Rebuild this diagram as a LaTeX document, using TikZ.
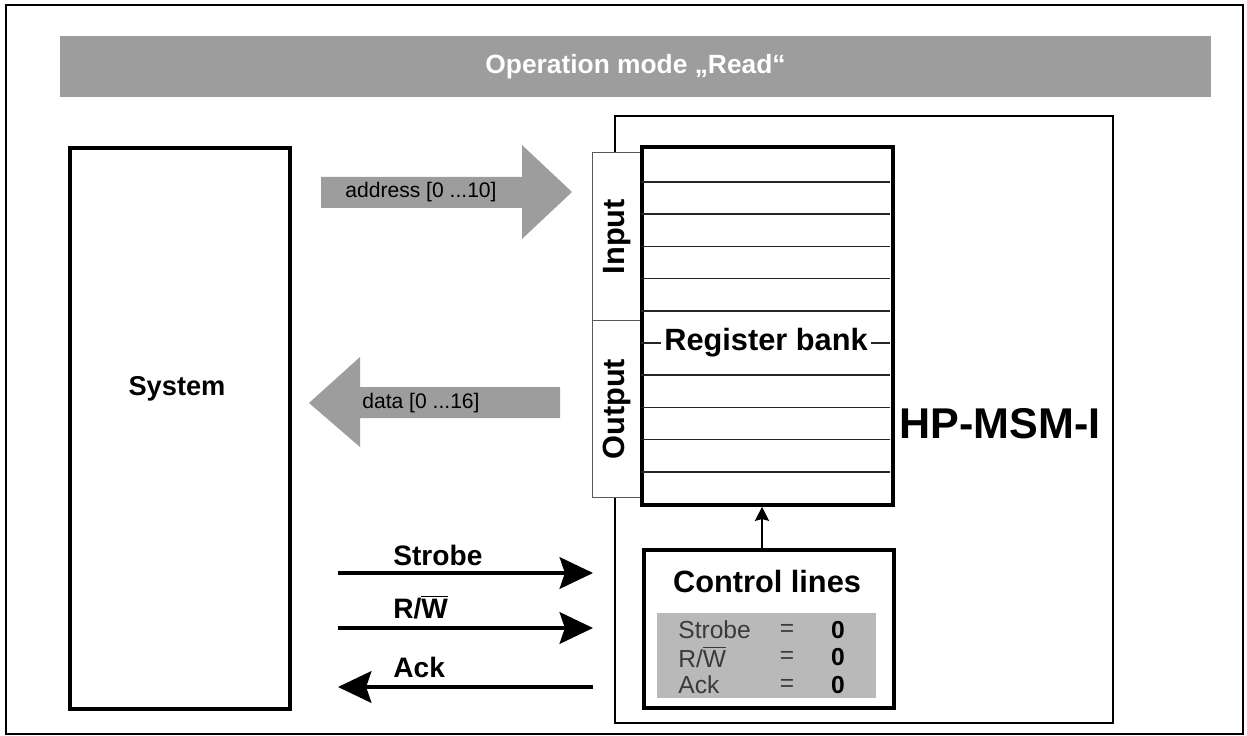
\documentclass[tikz,border=0pt]{standalone}
\usepackage{fontspec}
\setmainfont{Liberation Sans}
\usetikzlibrary{arrows.meta}
\definecolor{bargray}{HTML}{9D9D9D}
\definecolor{boxgray}{HTML}{B9B9B9}
\definecolor{txtgray}{HTML}{3A3A3A}

\begin{document}
\begin{tikzpicture}[x=0.02cm, y=-0.02cm,
    box/.style={draw=black, line width=2.2pt, inner sep=0pt, anchor=north west},
    hpframe/.style={draw=black, line width=1.1pt, inner sep=0pt, anchor=north west},
    tab/.style={draw=black!65, line width=0.8pt, fill=white, inner sep=0pt, anchor=north west},
    row/.style={draw=black!85, line width=1pt},
    sig/.style={line width=1.8pt, -{Stealth[length=19pt, width=18pt, inset=3pt]}},
    slabel/.style={font=\fontsize{16}{18}\selectfont\bfseries, anchor=west, inner sep=0pt},
    blabel/.style={font=\fontsize{12}{14}\selectfont, inner sep=0pt},
    clabel/.style={font=\fontsize{14}{14}\selectfont, text=txtgray, inner sep=0pt},
]
\useasboundingbox (0,0) rectangle (1247,736);
\draw[line width=1.1pt] (6,5) rectangle (1243,734);

% Title bar
\node[fill=bargray, minimum width=23.02cm, minimum height=1.22cm, inner sep=0pt,
  text=white, font=\fontsize{15}{18}\selectfont\bfseries] (bar) at (635.5,66.5) {Operation mode „Read“};

% System
\node[box, minimum width=4.4cm, minimum height=11.22cm] (sys) at (68,146) {};
\node[font=\fontsize{15.5}{18}\selectfont\bfseries] (systxt) at (177,389) {System};

% HP-MSM-I with register bank
\node[hpframe, minimum width=9.96cm, minimum height=12.14cm] (hp) at (614,115) {};
\node[font=\fontsize{24.5}{28}\selectfont\bfseries] (hptxt) at (1000,424) {HP-MSM-I};

\node[tab, minimum width=0.96cm, minimum height=3.36cm] (intab) at (592,152) {};
\node[tab, minimum width=0.96cm, minimum height=3.54cm] (outtab) at (592,320) {};
\node[rotate=90, font=\fontsize{17.5}{20}\selectfont\bfseries] (intxt) at (intab.center) {Input};
\node[rotate=90, font=\fontsize{17.5}{20}\selectfont\bfseries] (outtxt) at (outtab.center) {Output};

\node[box, fill=white, minimum width=5.02cm, minimum height=7.16cm] (rb) at (640,145) {};
\foreach \i in {0,...,9}
  \draw[row] (641,{182+32.2*\i}) -- (890,{182+32.2*\i});
\node[fill=white, inner sep=2pt, font=\fontsize{17.5}{20}\selectfont\bfseries] (rbtxt) at (766,343) {Register bank};

% Data paths
\fill[bargray] (321,177) -- (522,177) -- (522,145) -- (572,192) -- (522,239) -- (522,208) -- (321,208) -- cycle;
\node[blabel] (addr) at (421,192) {address [0 ...10]};
\fill[bargray] (560,387) -- (360,387) -- (360,357) -- (309,403) -- (360,447) -- (360,418) -- (560,418) -- cycle;
\node[blabel, anchor=west] (data) at (362,403) {data [0 ...16]};

% Control lines
\node[box, minimum width=5cm, minimum height=3.16cm] (ctl) at (642,548) {};
\node[font=\fontsize{17.5}{20}\selectfont\bfseries] (ctltxt) at (767,582) {Control lines};
\node[fill=boxgray, minimum width=4.38cm, minimum height=1.7cm, inner sep=0pt, anchor=north west] (vals) at (657,613) {};
\node[clabel, anchor=west] (v1) at (678,630) {Strobe};
\node[clabel, anchor=west] (v2) at (678,657) {R/$\overline{\mbox{W}}$};
\node[clabel, anchor=west] (v3) at (678,685) {Ack};
\node[clabel] (e1) at (787,630) {=};
\node[clabel] (e2) at (787,657) {=};
\node[clabel] (e3) at (787,685) {=};
\node[clabel, text=black, font=\fontsize{14}{14}\selectfont\bfseries] (z1) at (838,630) {0};
\node[clabel, text=black, font=\fontsize{14}{14}\selectfont\bfseries] (z2) at (838,657) {0};
\node[clabel, text=black, font=\fontsize{14}{14}\selectfont\bfseries] (z3) at (838,685) {0};
\draw[line width=1pt, -{Stealth[length=8pt, width=8pt, inset=1pt]}] (ctl.north -| 762,0) -- (rb.south -| 762,0);

% Handshake signals
\coordinate (sa) at (338,573);
\coordinate (sb) at (593,573);
\coordinate (ra) at (338,628);
\coordinate (rbend) at (593,628);
\coordinate (aa) at (593,687);
\coordinate (ab) at (338,687);
\draw[sig] (sa) -- (sb);
\draw[sig] (ra) -- (rbend);
\draw[sig] (aa) -- (ab);
\node[slabel] (strobe) at (393,555) {Strobe};
\node[slabel] (rw) at (393,607) {R/$\overline{\mbox{W}}$};
\node[slabel] (ack) at (393,667) {Ack};
\end{tikzpicture}
\end{document}
